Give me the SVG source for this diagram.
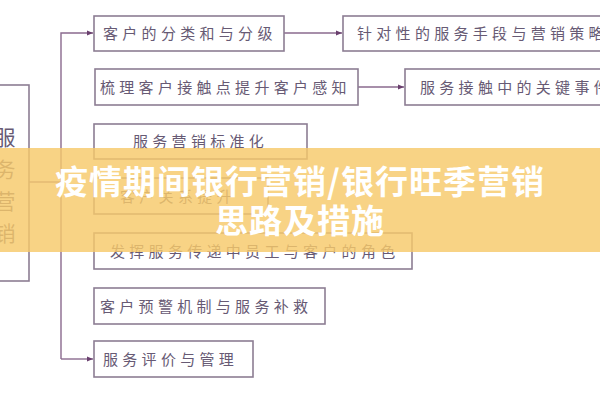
<svg xmlns="http://www.w3.org/2000/svg" width="600" height="400" viewBox="0 0 600 400">
<defs>
<marker id="arr" markerWidth="8" markerHeight="8" refX="7" refY="4" orient="auto" markerUnits="userSpaceOnUse">
<path d="M1,1.5 L7,4 L1,6.5 Z" fill="#6a3f6e"/>
</marker>
</defs>
<style>
.box{fill:#ffffff;stroke:#8c7d93;stroke-width:1.6}
.t{font-family:"Noto Sans CJK SC","Noto Sans",sans-serif;font-size:15px;fill:#675a74;letter-spacing:4.3px}
.lt{font-family:"Noto Sans CJK SC","Noto Sans",sans-serif;font-size:21px;fill:#675a74;text-anchor:middle}
.ln{fill:none;stroke:#8a6a8e;stroke-width:1.4}
.ttl{font-family:"Noto Sans CJK SC","Noto Sans",sans-serif;font-size:33px;font-weight:bold;fill:#ffffff;text-anchor:middle;letter-spacing:1px}
</style>
<rect width="600" height="400" fill="#ffffff"/>
<g id="connectors">
<path class="ln" d="M29,182 H61"/>
<path class="ln" d="M61,359 V33 H93" marker-end="url(#arr)"/>
<path class="ln" d="M61,359 H93" marker-end="url(#arr)"/>
<path class="ln" d="M284,33 H342" marker-end="url(#arr)"/>
<path class="ln" d="M358,87 H404" marker-end="url(#arr)"/>
</g>
<g id="root">
<rect class="box" x="-10" y="85" width="39" height="196"/>
<text class="lt" x="5" y="145">服</text>
<text class="lt" x="5" y="177">务</text>
<text class="lt" x="5" y="209">营</text>
<text class="lt" x="5" y="241">销</text>
</g>
<g id="n1"><rect class="box" x="94" y="16" width="190" height="35"/><text class="t" x="103" y="39">客户的分类和与分级</text></g>
<g id="n2"><rect class="box" x="95" y="69" width="263" height="36"/><text class="t" x="100" y="93">梳理客户接触点提升客户感知</text></g>
<g id="n3"><rect class="box" x="94" y="124" width="213" height="35"/><text class="t" x="133" y="147">服务营销标准化</text></g>
<g id="n4"><rect class="box" x="94" y="178" width="174" height="36"/><text class="t" x="120" y="202">客户关系提升</text></g>
<g id="n5"><rect class="box" x="94" y="233" width="318" height="36"/><text class="t" x="110" y="257">发挥服务传递中员工与客户的角色</text></g>
<g id="n6"><rect class="box" x="94" y="288" width="231" height="36"/><text class="t" x="100" y="312">客户预警机制与服务补救</text></g>
<g id="n7"><rect class="box" x="94" y="341" width="159" height="36"/><text class="t" x="103" y="365">服务评价与管理</text></g>
<g id="r1"><rect class="box" x="343" y="16" width="270" height="35"/><text class="t" x="357" y="39">针对性的服务手段与营销策略</text></g>
<g id="r2"><rect class="box" x="405" y="69" width="210" height="36"/><text class="t" x="420" y="93">服务接触中的关键事件</text></g>
<g id="banner">
<rect x="0" y="148" width="600" height="104" fill="#f7c96a" fill-opacity="0.82"/>
<text class="ttl" x="300" y="194">疫情期间银行营销/银行旺季营销</text>
<text class="ttl" x="300" y="233">思路及措施</text>
</g>
</svg>
